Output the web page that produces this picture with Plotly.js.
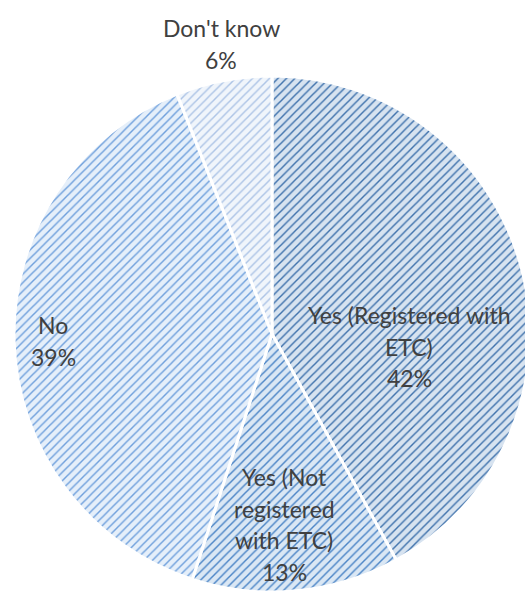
<!DOCTYPE html>
<html>
<head>
<meta charset="utf-8">
<script src="https://cdn.plot.ly/plotly-3.0.1.min.js"></script>
<style>
html, body { margin: 0; padding: 0; overflow: hidden; background: #fff; }
#chart { width: 545px; height: 592px; }
</style>
</head>
<body>
<div id="chart"></div>
<script>
const categories = ["Yes (Registered with ETC)", "Yes (Not registered with ETC)", "No", "Don't know"];
const values = [42, 13, 39, 6];
const labelLines = [["Yes (Registered with", "ETC)"], ["Yes (Not", "registered", "with ETC)"], ["No"], ["Don't know"]];
const fgColors = ["#3f72ac", "#4a84c6", "#6fa0dc", "#adc4e6"];
const bgColors = ["#d7e3f0", "#dae7f4", "#e5effa", "#f0f5fb"];

const W = 545, H = 592;
// label block: centre x and y of first line, in pixels
const labelPos = [[409, 315], [284, 477], [53, 325], [221, 28]];
const lineGap = 31.5;

const trace = {
  type: "pie",
  labels: categories,
  values: values,
  sort: false,
  direction: "clockwise",
  rotation: 0,
  textinfo: "none",
  hoverinfo: "label+percent",
  marker: {
    colors: bgColors,
    line: { color: "#ffffff", width: 3 },
    pattern: {
      shape: "/",
      fgcolor: fgColors,
      bgcolor: bgColors,
      size: 6,
      solidity: 0.24,
      fillmode: "replace"
    }
  },
  domain: { x: [14 / W, 530 / W], y: [0, (592 - 76) / H] },
  showlegend: false
};

const total = values.reduce((a, b) => a + b, 0);
const annotations = [];
categories.forEach((c, i) => {
  const pct = Math.round(values[i] / total * 100) + "%";
  const lines = labelLines[i].concat([pct]);
  lines.forEach((ln, k) => {
    annotations.push({
      xref: "paper", yref: "paper",
      x: labelPos[i][0] / W,
      y: 1 - (labelPos[i][1] + k * lineGap) / H,
      xanchor: "center", yanchor: "middle",
      showarrow: false,
      text: ln,
      font: { family: "Lato, 'Open Sans', sans-serif", size: 23, color: "#404040" }
    });
  });
});

const layout = {
  width: W, height: H,
  margin: { l: 0, r: 0, t: 0, b: 0 },
  paper_bgcolor: "#ffffff",
  plot_bgcolor: "#ffffff",
  annotations: annotations
};

Plotly.newPlot("chart", [trace], layout, { displayModeBar: false, staticPlot: true });
</script>
</body>
</html>
